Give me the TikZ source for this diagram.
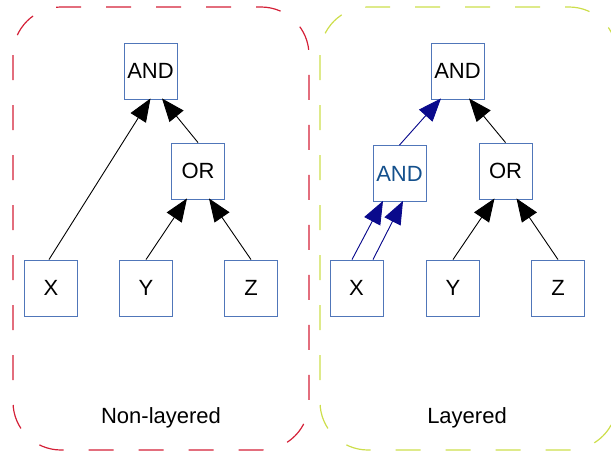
\documentclass[tikz,border=0pt]{standalone}
\usepackage{fontspec}
\setmainfont{Liberation Sans}
\usetikzlibrary{arrows.meta}
\definecolor{nodeborder}{RGB}{80,118,185}
\definecolor{midtext}{RGB}{20,80,140}
\definecolor{navyedge}{RGB}{10,10,140}
\definecolor{boxred}{RGB}{212,32,55}
\definecolor{boxgreen}{RGB}{205,222,75}
\begin{document}
\begin{tikzpicture}[x=1pt,y=-1pt,
  gate/.style={draw=nodeborder,line width=0.9pt,minimum width=53pt,minimum height=56pt,inner sep=0pt,font=\fontsize{22}{26}\selectfont},
  edge/.style={line width=0.9pt,-{Triangle[length=23pt,width=18pt]}},
  navy/.style={edge,draw=navyedge,fill=navyedge},
  container/.style={line width=1.2pt,rounded corners=48pt,dash pattern=on 25pt off 25pt},
  caption/.style={font=\fontsize{22}{26}\selectfont,inner sep=0pt}]
\useasboundingbox (0,0) rectangle (611,455);
\begin{scope}
\clip (0,0) rectangle (611,455);
\draw[container,draw=boxred] (13,7) rectangle (309,450);
\draw[container,draw=boxgreen] (320,7) rectangle (617,450);
\end{scope}
% left
\node[gate] (ANDL) at (150.5,71) {AND};
\node[gate] (ORL) at (198,171) {OR};
\node[gate] (XL) at (51,288) {X};
\node[gate] (YL) at (146,288) {Y};
\node[gate] (ZL) at (251,288) {Z};
\node[caption] (capL) at (161,418) {Non-layered};
% right
\node[gate] (ANDR) at (457.5,71) {AND};
\node[gate,text=midtext] (ANDM) at (399.5,173.5) {AND};
\node[gate] (ORR) at (505.5,171) {OR};
\node[gate] (XR) at (356.5,288) {X};
\node[gate] (YR) at (453,288) {Y};
\node[gate] (ZR) at (558,288) {Z};
\node[caption] (capR) at (467,418) {Layered};
% left edges
\draw[edge] ([xshift=-2pt]XL.north) -- ([yshift=1pt]ANDL.south);
\draw[edge] (ORL.north) -- ([xshift=11.5pt,yshift=1pt]ANDL.south);
\draw[edge] (YL.north) -- ([xshift=-11pt,yshift=1pt]ORL.south);
\draw[edge] (ZL.north) -- ([xshift=11pt,yshift=1pt]ORL.south);
% right edges
\draw[navy] ([xshift=-4.5pt]XR.north) -- ([xshift=-16.5pt,yshift=1pt]ANDM.south);
\draw[navy] ([xshift=16.5pt]XR.north) -- ([xshift=3.5pt,yshift=1pt]ANDM.south);
\draw[navy] (ANDM.north) -- ([xshift=-16.5pt,yshift=1pt]ANDR.south);
\draw[edge] (ORR.north) -- ([xshift=11.5pt,yshift=1pt]ANDR.south);
\draw[edge] (YR.north) -- ([xshift=-11pt,yshift=1pt]ORR.south);
\draw[edge] (ZR.north) -- ([xshift=11pt,yshift=1pt]ORR.south);
\end{tikzpicture}
\end{document}
